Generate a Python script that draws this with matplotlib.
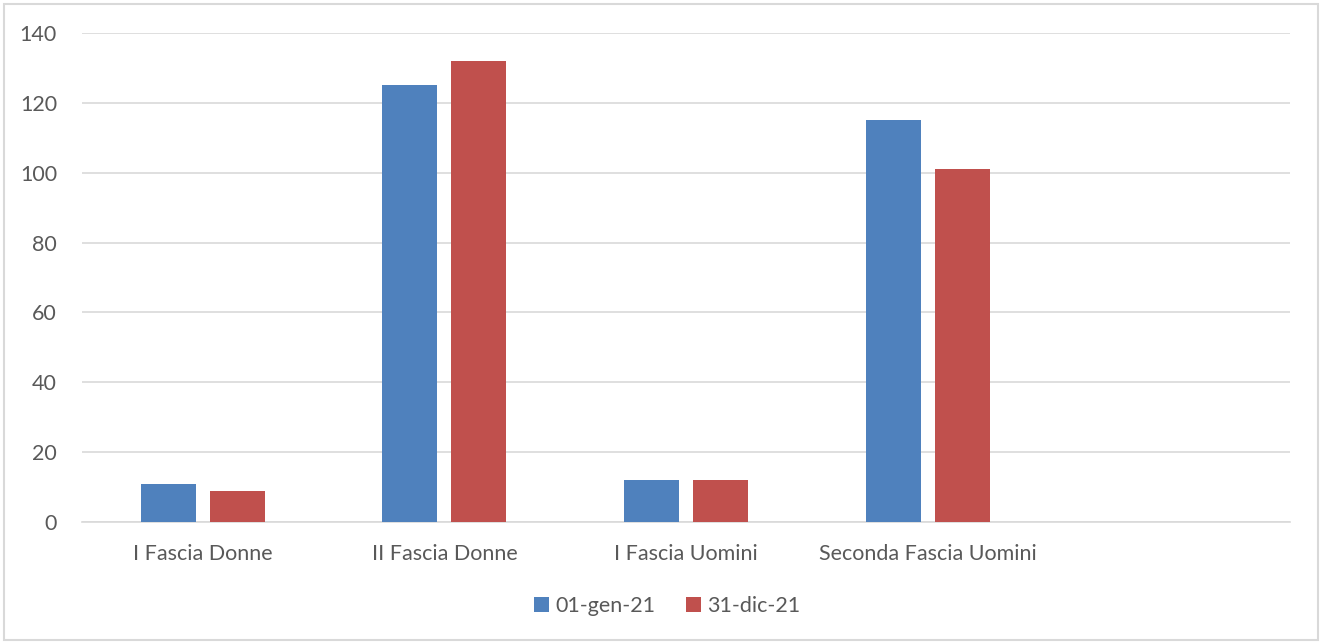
import matplotlib
matplotlib.use("Agg")
import matplotlib.pyplot as plt
from matplotlib.patches import Rectangle
import numpy as np

categories = ["I Fascia Donne", "II Fascia Donne", "I Fascia Uomini", "Seconda Fascia Uomini", ""]
series_names = ["01-gen-21", "31-dic-21"]
values_jan = [11, 125, 12, 115, None]
values_dec = [9, 132, 12, 101, None]
yticks = [0, 20, 40, 60, 80, 100, 120, 140]

colors = ["#4F81BD", "#C0504D"]
text_color = "#595959"
grid_color = "#D9D9D9"

plt.rcParams['font.family'] = ['Lato', 'DejaVu Sans']

W, H = 1321, 643
fig = plt.figure(figsize=(W / 100, H / 100), dpi=100)
fig.patches.append(Rectangle((4 / W, 3 / H), (1318 - 4) / W, (639 - 3) / H,
                             transform=fig.transFigure, fill=False,
                             edgecolor=grid_color, linewidth=1.5))

ax = fig.add_axes([82 / W, (H - 522) / H, (1290 - 82) / W, (522 - 33) / H])

x = np.arange(len(categories))
bw = 0.228
off = 0.143
jan = [v if v is not None else 0 for v in values_jan]
dec = [v if v is not None else 0 for v in values_dec]
n = 4
ax.bar(x[:n] - off, jan[:n], width=bw, color=colors[0], label=series_names[0], zorder=3)
ax.bar(x[:n] + off, dec[:n], width=bw, color=colors[1], label=series_names[1], zorder=3)

ax.set_xlim(-0.5, len(categories) - 0.5)
ax.set_ylim(0, 140)
ax.set_yticks(yticks)
ax.set_xticks(x)
ax.set_xticklabels(categories)
ax.yaxis.grid(True, color=grid_color, linewidth=1.2, zorder=0)
ax.set_axisbelow(True)
for s in ["top", "right", "left"]:
    ax.spines[s].set_visible(False)
ax.spines["bottom"].set_color(grid_color)
ax.spines["bottom"].set_linewidth(1.2)
ax.tick_params(axis="both", length=0, colors=text_color, labelsize=15.5)
ax.tick_params(axis="y", pad=18)
ax.tick_params(axis="x", pad=16)

leg = fig.legend(loc="center", bbox_to_anchor=(667 / W, (H - 606) / H), ncol=2,
                 frameon=False, fontsize=15.5, handlelength=0.7, handleheight=0.7,
                 handletextpad=0.3, columnspacing=1.4)
for t in leg.get_texts():
    t.set_color(text_color)

fig.savefig("out.png", dpi=100)
